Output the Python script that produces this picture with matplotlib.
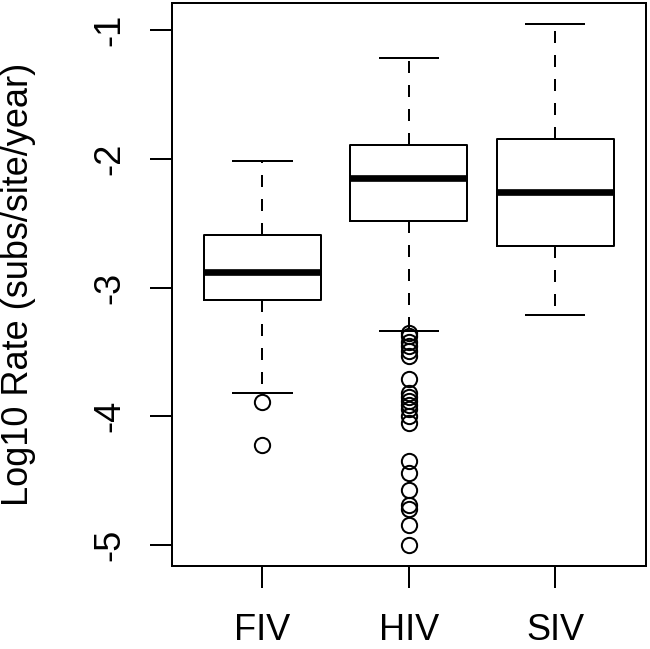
import matplotlib
matplotlib.use("Agg")
import matplotlib.pyplot as plt

# values (log10 substitution rates)
categories = ["FIV", "HIV", "SIV"]
q1 = [-3.10, -2.48, -2.68]
medians = [-2.88, -2.15, -2.26]
q3 = [-2.59, -1.89, -1.85]
whisker_low = [-3.82, -3.34, -3.21]
whisker_high = [-2.02, -1.22, -0.95]
outliers_fiv = [-3.885, -4.22]
outliers_hiv = [
    -3.35, -3.38, -3.42, -3.45, -3.49, -3.53, -3.71,
    -3.82, -3.85, -3.88, -3.91, -3.94, -4.00, -4.05,
    -4.35, -4.44, -4.57, -4.69, -4.72, -4.84, -5.00,
]
outliers_siv = []
yticks = [-1, -2, -3, -4, -5]

plt.rcParams["font.family"] = ["Liberation Sans", "DejaVu Sans"]

LW = 1.44

fig = plt.figure(figsize=(6.5, 6.49), dpi=100)
ax = fig.add_axes([0.2642, 0.1279, 0.7296, 0.8680])

stats = [
    {"label": c, "q1": a, "med": m, "q3": b, "whislo": lo, "whishi": hi, "fliers": f}
    for c, a, m, b, lo, hi, f in zip(
        categories, q1, medians, q3, whisker_low, whisker_high,
        [outliers_fiv, outliers_hiv, outliers_siv],
    )
]

ax.bxp(
    stats,
    positions=[1, 2, 3],
    widths=0.8,
    capwidths=0.4,
    showfliers=True,
    boxprops={"color": "black", "linewidth": LW},
    medianprops={"color": "black", "linewidth": 4.8, "solid_capstyle": "butt"},
    whiskerprops={"color": "black", "linewidth": LW, "linestyle": (0, (6, 6))},
    capprops={"color": "black", "linewidth": LW},
    flierprops={"marker": "o", "markerfacecolor": "none", "markeredgecolor": "black",
                "markersize": 11, "markeredgewidth": LW},
)

ax.set_xlim(0.38, 3.62)
ax.set_ylim(-5.162, -0.788)
ax.set_xticks([1, 2, 3])
ax.set_xticklabels(categories)
ax.set_yticks(yticks)
ax.set_yticklabels([str(t) for t in yticks], rotation=90, va="center")

for spine in ax.spines.values():
    spine.set_linewidth(LW)
    spine.set_color("black")

ax.tick_params(axis="both", length=15.5, width=LW, labelsize=26, color="black")
ax.tick_params(axis="x", pad=18.5)
ax.tick_params(axis="y", pad=16.5)

ax.set_ylabel("Log10 Rate (subs/site/year)", fontsize=26)
ax.yaxis.set_label_coords(-0.287, 0.5)

fig.savefig("out.png", dpi=100)
